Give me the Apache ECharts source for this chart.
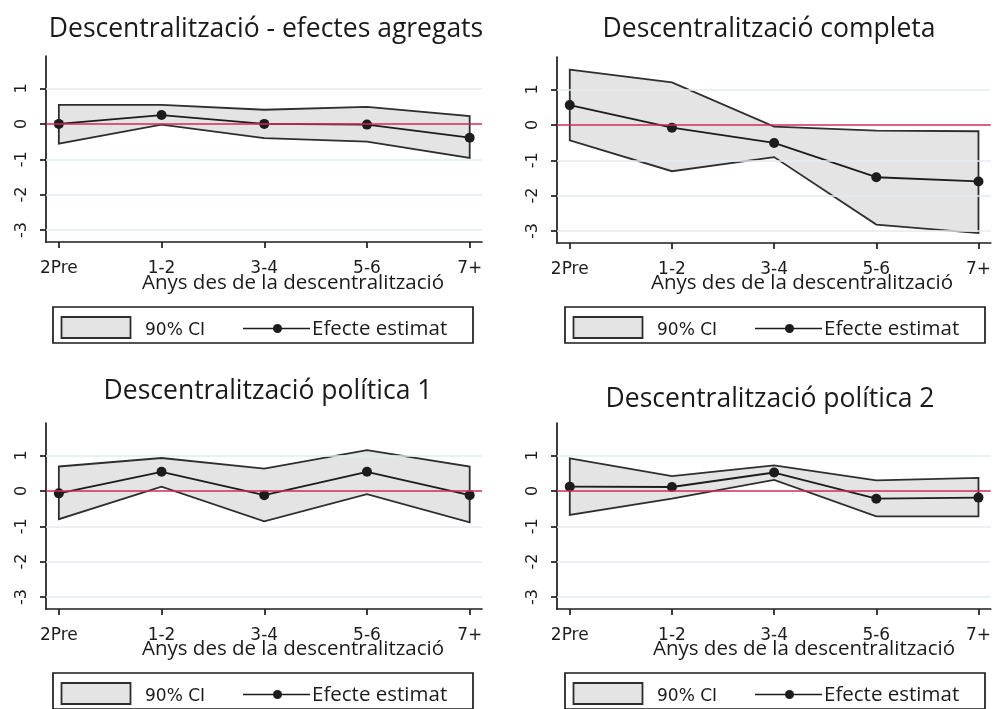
<!DOCTYPE html>
<html>
<head>
<meta charset="utf-8">
<script src="https://cdn.jsdelivr.net/npm/echarts@6/dist/echarts.min.js"></script>
<style>
  html, body { margin: 0; padding: 0; background: #ffffff; }
  #chart { width: 994px; height: 709px; }
</style>
</head>
<body>
<div id="chart"></div>
<script>
// Event-study categories and axis labels
const categories = ['2Pre', '1-2', '3-4', '5-6', '7+'];
const yTickValues = [-3, -2, -1, 0, 1];
const yTickLabels = ['-3', '-2', '-1', '0', '1'];
const gridValues = [-3, -2, -1, 1];
const xAxisTitle = 'Anys des de la descentralització';
const legendBandLabel = '90% CI';
const legendLineLabel = 'Efecte estimat';

const panelTitles = [
  'Descentralització - efectes agregats',
  'Descentralització completa',
  'Descentralització política 1',
  'Descentralització política 2'
];

// Aggregate effects
const aggEstimate = [0.00, 0.25, 0.00, -0.02, -0.39];
const aggUpper    = [0.54, 0.54, 0.40, 0.48, 0.22];
const aggLower    = [-0.56, -0.02, -0.40, -0.50, -0.96];

// Full decentralisation
const fullEstimate = [0.56, -0.08, -0.51, -1.48, -1.60];
const fullUpper    = [1.56, 1.20, -0.05, -0.16, -0.18];
const fullLower    = [-0.44, -1.31, -0.91, -2.82, -3.06];

// Political decentralisation 1
const pol1Estimate = [-0.07, 0.54, -0.12, 0.54, -0.12];
const pol1Upper    = [0.69, 0.93, 0.63, 1.15, 0.69];
const pol1Lower    = [-0.80, 0.12, -0.86, -0.09, -0.89];

// Political decentralisation 2
const pol2Estimate = [0.12, 0.11, 0.52, -0.22, -0.19];
const pol2Upper    = [0.92, 0.42, 0.72, 0.30, 0.37];
const pol2Lower    = [-0.68, -0.22, 0.31, -0.72, -0.72];

const panelData = [
  { est: aggEstimate,  up: aggUpper,  lo: aggLower },
  { est: fullEstimate, up: fullUpper, lo: fullLower },
  { est: pol1Estimate, up: pol1Upper, lo: pol1Lower },
  { est: pol2Estimate, up: pol2Upper, lo: pol2Lower }
];

// Layout of the four panels
const panels = [
  { left: 46,  top: 56,  width: 436, height: 186, titleX: 266, titleY: 29,  nameX: 293, nameY: 283, legendX: 53,  legendY: 307 },
  { left: 557, top: 57,  width: 437, height: 186, titleX: 769, titleY: 29,  nameX: 802, nameY: 283, legendX: 565, legendY: 307 },
  { left: 46,  top: 423, width: 436, height: 186, titleX: 268, titleY: 391, nameX: 293, nameY: 649, legendX: 53,  legendY: 673 },
  { left: 557, top: 423, width: 437, height: 186, titleX: 770, titleY: 399, nameX: 804, nameY: 649, legendX: 565, legendY: 673 }
];

const INK = '#1c1c1c';
const BAND_FILL = '#e4e4e4';
const BAND_EDGE = '#2e2e2e';
const GRID_COLOR = '#e1edef';
const ZERO_COLOR = '#cf2c58';
const TICK_FONT = 'DejaVu Sans';
const TEXT_FONT = 'Open Sans';

const grid = [], xAxis = [], yAxis = [], series = [], graphic = [];

panels.forEach((p, i) => {
  const d = panelData[i];
  grid.push({ left: p.left, top: p.top, width: p.width, height: p.height, containLabel: false });

  xAxis.push({
    type: 'value', gridIndex: i, min: -0.125, max: 4.12,
    axisLine: { show: true, onZero: false, lineStyle: { color: INK, width: 1.7 } },
    axisTick: { show: true, length: 6, customValues: [0, 1, 2, 3, 4], lineStyle: { color: INK, width: 1.7 } },
    axisLabel: {
      customValues: [0, 1, 2, 3, 4], margin: 18,
      formatter: v => categories[Math.round(v)],
      color: INK, fontFamily: TICK_FONT, fontSize: 17, lineHeight: 17
    },
    splitLine: { show: false }
  });

  yAxis.push({
    type: 'value', gridIndex: i, min: -3.34, max: 1.92,
    axisLine: { show: true, onZero: false, lineStyle: { color: INK, width: 1.7 } },
    axisTick: { show: true, length: 6, customValues: yTickValues, lineStyle: { color: INK, width: 1.7 } },
    axisLabel: {
      customValues: yTickValues, rotate: 90, margin: 16,
      formatter: v => yTickLabels[yTickValues.indexOf(Math.round(v))],
      color: INK, fontFamily: TICK_FONT, fontSize: 16, lineHeight: 16
    },
    splitLine: { show: false }
  });

  // Reference lines: light horizontal grid plus the red zero line
  series.push({
    type: 'line', xAxisIndex: i, yAxisIndex: i, data: [], z: 1, silent: true,
    markLine: {
      silent: true, symbol: 'none', animation: false,
      label: { show: false },
      data: gridValues.map(v => ({ yAxis: v, lineStyle: { color: GRID_COLOR, width: 1.5, type: 'solid' } }))
        .concat([{ yAxis: 0, lineStyle: { color: ZERO_COLOR, width: 1.6, type: 'solid' } }])
    }
  });

  // Confidence band as a closed polygon
  series.push({
    type: 'custom', xAxisIndex: i, yAxisIndex: i, z: 2, silent: true, clip: false,
    data: categories.map((c, j) => [j, d.lo[j], d.up[j]]),
    encode: { x: 0, y: [1, 2] },
    renderItem: (params, api) => {
      if (params.dataIndex !== 0) return null;
      const pts = [];
      for (let j = 0; j < categories.length; j++) pts.push(api.coord([j, d.up[j]]));
      for (let j = categories.length - 1; j >= 0; j--) pts.push(api.coord([j, d.lo[j]]));
      return {
        type: 'polygon',
        shape: { points: pts },
        style: { fill: BAND_FILL, stroke: BAND_EDGE, lineWidth: 1.8 }
      };
    }
  });

  // Point estimates
  series.push({
    type: 'line', xAxisIndex: i, yAxisIndex: i, z: 3, silent: true,
    data: categories.map((c, j) => [j, d.est[j]]),
    symbol: 'circle', symbolSize: 10,
    itemStyle: { color: INK },
    lineStyle: { color: INK, width: 1.8 }
  });

  // Panel title and x-axis title
  graphic.push({
    type: 'text', x: p.titleX, y: p.titleY, silent: true,
    style: { text: panelTitles[i], fill: '#1a1a1a', font: '26.5px ' + TEXT_FONT, textAlign: 'center', textVerticalAlign: 'middle' }
  });
  graphic.push({
    type: 'text', x: p.nameX, y: p.nameY, silent: true,
    style: { text: xAxisTitle, fill: '#1a1a1a', font: '20.5px ' + TEXT_FONT, textAlign: 'center', textVerticalAlign: 'middle' }
  });

  // Legend box
  const lx = p.legendX, ly = p.legendY;
  graphic.push({
    type: 'group', silent: true,
    children: [
      { type: 'rect', shape: { x: lx, y: ly, width: 420, height: 36 }, style: { fill: '#ffffff', stroke: INK, lineWidth: 1.7 } },
      { type: 'rect', shape: { x: lx + 8.5, y: ly + 10, width: 69, height: 21 }, style: { fill: BAND_FILL, stroke: BAND_EDGE, lineWidth: 1.8 } },
      { type: 'text', x: lx + 92, y: ly + 23.5, style: { text: legendBandLabel, fill: INK, font: '17px ' + TICK_FONT, textAlign: 'left', textVerticalAlign: 'middle' } },
      { type: 'line', shape: { x1: lx + 190, y1: ly + 21.5, x2: lx + 257, y2: ly + 21.5 }, style: { stroke: INK, lineWidth: 1.7 } },
      { type: 'circle', shape: { cx: lx + 224.5, cy: ly + 21.5, r: 4.5 }, style: { fill: INK } },
      { type: 'text', x: lx + 259, y: ly + 22, style: { text: legendLineLabel, fill: INK, font: '20.5px ' + TEXT_FONT, textAlign: 'left', textVerticalAlign: 'middle' } }
    ]
  });
});

const chart = echarts.init(document.getElementById('chart'), null, { renderer: 'canvas' });
chart.setOption({
  animation: false,
  backgroundColor: '#ffffff',
  grid, xAxis, yAxis, series, graphic
});
</script>
</body>
</html>
